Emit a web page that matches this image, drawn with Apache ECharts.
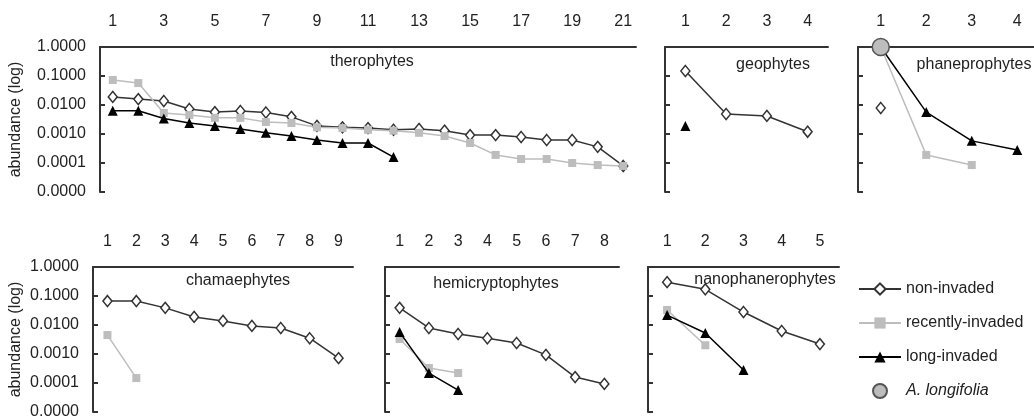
<!DOCTYPE html>
<html lang="en">
<head>
    <meta charset="UTF-8">
    <title>abundance by life form</title>
    <script src="https://cdn.jsdelivr.net/npm/echarts@6/dist/echarts.min.js"></script>
    <style>
        html, body { margin: 0; padding: 0; background: #fff; }
        #main { width: 1034px; height: 417px; }
    </style>
</head>
<body>
<div id="main"></div>
<script>
    // categories (rank of species inside each life form)
    var theroCats = ['1', '2', '3', '4', '5', '6', '7', '8', '9', '10', '11', '12', '13', '14', '15', '16', '17', '18', '19', '20', '21'];
    var geoCats = ['1', '2', '3', '4'];
    var phaneCats = ['1', '2', '3', '4'];
    var chamaeCats = ['1', '2', '3', '4', '5', '6', '7', '8', '9'];
    var hemiCats = ['1', '2', '3', '4', '5', '6', '7', '8'];
    var nanoCats = ['1', '2', '3', '4', '5'];

    // therophytes
    var theroNon = [0.019, 0.016, 0.0137, 0.0073, 0.0057, 0.0062, 0.0055, 0.0039, 0.0019, 0.0017, 0.0016, 0.0014, 0.0015, 0.0013, 0.00092, 0.00092, 0.00079, 0.00062, 0.00062, 0.00036, 0.000079];
    var theroRecent = [0.073, 0.057, 0.0053, 0.0045, 0.0036, 0.0036, 0.0026, 0.0024, 0.0017, 0.0016, 0.0014, 0.0013, 0.0011, 0.00085, 0.00049, 0.00019, 0.000137, 0.000137, 0.0001, 0.000085, 0.000079];
    var theroLong = [0.0063, 0.0063, 0.0034, 0.0024, 0.0019, 0.0015, 0.0011, 0.00085, 0.00062, 0.00049, 0.00049, 0.00016];

    // geophytes
    var geoNon = [0.149, 0.0049, 0.0042, 0.0012];
    var geoLong = [0.0019];

    // phaneprophytes (A. longifolia sits at rank 1 of invaded plots)
    var phaneNon = [0.0079];
    var phaneRecent = [1.0, 0.00019, 0.000085];
    var phaneLong = [1.0, 0.0057, 0.00058, 0.00028];
    var phaneAcacia = [1.0];

    // chamaephytes
    var chamaeNon = [0.067, 0.067, 0.039, 0.019, 0.0138, 0.0093, 0.0079, 0.0035, 0.00072];
    var chamaeRecent = [0.0045, 0.000148];

    // hemicryptophytes
    var hemiNon = [0.039, 0.0079, 0.0049, 0.0035, 0.0024, 0.00093, 0.00016, 0.000093];
    var hemiRecent = [0.0033, 0.00033, 0.00022];
    var hemiLong = [0.0057, 0.00022, 0.000057];

    // nanophanerophytes
    var nanoNon = [0.30, 0.17, 0.028, 0.0062, 0.0022];
    var nanoRecent = [0.033, 0.0020];
    var nanoLong = [0.022, 0.0053, 0.00028];

    var font = 'Liberation Sans';
    var axisColor = '#333';

    var chart = echarts.init(document.getElementById('main'));

    var grids = [
        {left: 100, top: 47, width: 536, height: 145, outerBoundsMode: 'none'},
        {left: 665, top: 47, width: 163, height: 145, outerBoundsMode: 'none'},
        {left: 858, top: 47, width: 182, height: 145, outerBoundsMode: 'none'},
        {left: 93, top: 267, width: 260, height: 145, outerBoundsMode: 'none'},
        {left: 385, top: 267, width: 234, height: 145, outerBoundsMode: 'none'},
        {left: 648, top: 267, width: 191, height: 145, outerBoundsMode: 'none'}
    ];
    var cats = [theroCats, geoCats, phaneCats, chamaeCats, hemiCats, nanoCats];

    var xAxes = [], yAxes = [];
    for (var i = 0; i < grids.length; i++) {
        xAxes.push({
            type: 'category',
            gridIndex: i,
            position: 'top',
            data: cats[i],
            boundaryGap: true,
            axisLine: {lineStyle: {color: axisColor, width: 2}},
            axisTick: {inside: true, length: 5, interval: 0, lineStyle: {color: axisColor, width: 2}},
            axisLabel: {
                interval: i === 0 ? 1 : 0,
                margin: 17,
                color: '#222',
                fontFamily: font,
                fontSize: 16
            },
            splitLine: {show: false}
        });
        var showLabels = (i === 0 || i === 3);
        yAxes.push({
            type: 'log',
            logBase: 10,
            gridIndex: i,
            min: 0.00001,
            max: 1,
            axisLine: {show: true, lineStyle: {color: axisColor, width: 2}},
            axisTick: {show: true, inside: true, length: 5, lineStyle: {color: axisColor, width: 2}},
            axisLabel: {
                show: showLabels,
                margin: 14,
                color: '#222',
                fontFamily: font,
                fontSize: 16,
                formatter: function (v) { return v.toFixed(4); }
            },
            splitLine: {show: false},
            name: showLabels ? 'abundance (log)' : '',
            nameLocation: 'middle',
            nameRotate: 90,
            nameGap: i === 0 ? 76 : 69,
            nameTextStyle: {color: '#222', fontFamily: font, fontSize: 16}
        });
    }

    function nonSeries(idx, data) {
        return {
            name: 'non-invaded', type: 'line', xAxisIndex: idx, yAxisIndex: idx, data: data,
            symbol: 'diamond', symbolSize: [9, 11], z: 2,
            lineStyle: {color: '#333', width: 1.5},
            itemStyle: {color: '#fff', borderColor: '#333', borderWidth: 1.5}
        };
    }
    function recentSeries(idx, data) {
        return {
            name: 'recently-invaded', type: 'line', xAxisIndex: idx, yAxisIndex: idx, data: data,
            symbol: 'rect', symbolSize: 8, z: 3,
            lineStyle: {color: '#bdbdbd', width: 1.5},
            itemStyle: {color: '#bdbdbd', borderWidth: 0}
        };
    }
    function longSeries(idx, data) {
        return {
            name: 'long-invaded', type: 'line', xAxisIndex: idx, yAxisIndex: idx, data: data,
            symbol: 'triangle', symbolSize: 10, z: 4,
            lineStyle: {color: '#000', width: 1.5},
            itemStyle: {color: '#000', borderWidth: 0}
        };
    }

    var series = [
        nonSeries(0, theroNon), recentSeries(0, theroRecent), longSeries(0, theroLong),
        nonSeries(1, geoNon), longSeries(1, geoLong),
        nonSeries(2, phaneNon), recentSeries(2, phaneRecent), longSeries(2, phaneLong),
        {
            name: 'A. longifolia', type: 'scatter', xAxisIndex: 2, yAxisIndex: 2, data: phaneAcacia,
            symbol: 'circle', symbolSize: 17, z: 6,
            itemStyle: {color: '#bdbdbd', borderColor: '#555', borderWidth: 1.5, opacity: 1}
        },
        nonSeries(3, chamaeNon), recentSeries(3, chamaeRecent),
        nonSeries(4, hemiNon), recentSeries(4, hemiRecent), longSeries(4, hemiLong),
        nonSeries(5, nanoNon), recentSeries(5, nanoRecent), longSeries(5, nanoLong)
    ];

    function panelTitle(text, x, y) {
        return {
            type: 'text', x: x, y: y, z: 10,
            style: {
                text: text, textAlign: 'center', textVerticalAlign: 'middle',
                font: '16px "' + font + '"', fill: '#222'
            }
        };
    }

    var option = {
        animation: false,
        grid: grids,
        xAxis: xAxes,
        yAxis: yAxes,
        series: series,
        legend: {
            orient: 'vertical',
            left: 853,
            top: 276,
            itemWidth: 42,
            itemHeight: 14,
            itemGap: 18,
            data: ['non-invaded', 'recently-invaded', 'long-invaded', 'A. longifolia'],
            textStyle: {
                color: '#222', fontFamily: font, fontSize: 16,
                rich: {i: {fontStyle: 'italic', color: '#222', fontFamily: font, fontSize: 16}}
            },
            formatter: function (name) {
                return name === 'A. longifolia' ? '{i|' + name + '}' : name;
            }
        },
        graphic: [
            panelTitle('therophytes', 372, 62),
            panelTitle('geophytes', 773, 65),
            panelTitle('phaneprophytes', 974, 65),
            panelTitle('chamaephytes', 238, 281),
            panelTitle('hemicryptophytes', 496, 284),
            panelTitle('nanophanerophytes', 765, 280)
        ]
    };

    chart.setOption(option);
</script>
</body>
</html>
